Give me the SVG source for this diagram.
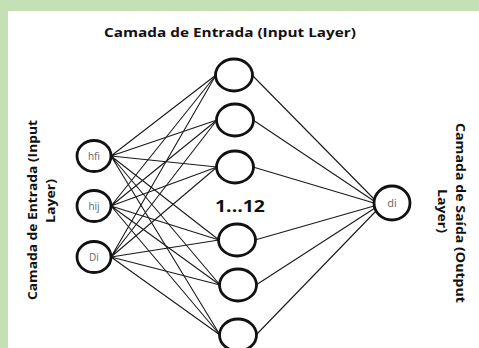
<svg xmlns="http://www.w3.org/2000/svg" width="479" height="348" viewBox="0 0 479 348">
  <style>
    .node { fill: #ffffff; stroke: #111111; stroke-width: 2.8; }
    .edge { stroke: #1a1a1a; stroke-width: 1.1; fill: none; }
    .lbl { font-family: "Open Sans", "DejaVu Sans", sans-serif; font-size: 10px; fill: #666666; text-anchor: middle; }
    .title { font-family: "Open Sans", "DejaVu Sans", sans-serif; font-weight: bold; font-size: 13px; fill: #111111; text-anchor: middle; }
  </style>
  <!-- frame -->
  <rect x="0" y="0" width="479" height="348" fill="#c5e0b4"/>
  <rect x="8" y="11" width="471" height="337" fill="#ffffff"/>

  <!-- layer titles -->
  <text class="title" x="230" y="37" textLength="252" lengthAdjust="spacingAndGlyphs">Camada de Entrada (Input Layer)</text>
  <g transform="translate(37,210) rotate(-90)">
    <text class="title" x="0" y="0" textLength="180" lengthAdjust="spacingAndGlyphs">Camada de Entrada (Input</text>
    <text class="title" x="9" y="18" textLength="44" lengthAdjust="spacingAndGlyphs">Layer)</text>
  </g>
  <g transform="translate(456,213) rotate(90)">
    <text class="title" x="0" y="0" textLength="180" lengthAdjust="spacingAndGlyphs">Camada de Saída (Output</text>
    <text class="title" x="-2" y="18" textLength="44" lengthAdjust="spacingAndGlyphs">Layer)</text>
  </g>
  <text class="title" x="240" y="212" style="font-size:16px" textLength="50" lengthAdjust="spacingAndGlyphs">1...12</text>

  <!-- connectors -->
  <g id="connectors" class="edge">
    <!-- input -> hidden -->
    <path d="M111 156 L216 75 M111 156 L217 120 M111 156 L217 167 M111 156 L219 240 M111 156 L220 285 M111 156 L220 335"/>
    <path d="M111 206 L216 75 M111 206 L217 120 M111 206 L217 167 M111 206 L219 240 M111 206 L220 285 M111 206 L220 335"/>
    <path d="M111 257 L216 75 M111 257 L217 120 M111 257 L217 167 M111 257 L219 240 M111 257 L220 285 M111 257 L220 335"/>
    <!-- hidden -> output -->
    <path d="M252 75 L374 199 M253 120 L374 201 M253 167 L374 203 M255 240 L374 206 M256 285 L375 208 M256 335 L376 211"/>
  </g>

  <!-- input layer -->
  <g id="in-hfi"><ellipse class="node" cx="94" cy="156" rx="17" ry="15.5"/><text class="lbl" x="94" y="160">hfi</text></g>
  <g id="in-hij"><ellipse class="node" cx="94" cy="206" rx="17" ry="15.5"/><text class="lbl" x="94" y="210">hij</text></g>
  <g id="in-di"><ellipse class="node" cx="94" cy="257" rx="17" ry="15.5"/><text class="lbl" x="94" y="261">Di</text></g>

  <!-- hidden layer -->
  <g id="h1"><ellipse class="node" cx="234" cy="75" rx="18.5" ry="16"/></g>
  <g id="h2"><ellipse class="node" cx="235" cy="120" rx="18.5" ry="16"/></g>
  <g id="h3"><ellipse class="node" cx="235" cy="167" rx="18.5" ry="16"/></g>
  <g id="h4"><ellipse class="node" cx="237" cy="240" rx="18.5" ry="16"/></g>
  <g id="h5"><ellipse class="node" cx="238" cy="285" rx="18.5" ry="16"/></g>
  <g id="h6"><ellipse class="node" cx="238" cy="335" rx="18.5" ry="16"/></g>

  <!-- output layer -->
  <g id="out-di"><ellipse class="node" cx="392" cy="203" rx="18" ry="17"/><text class="lbl" x="392" y="207" style="font-size:11px">di</text></g>
</svg>
